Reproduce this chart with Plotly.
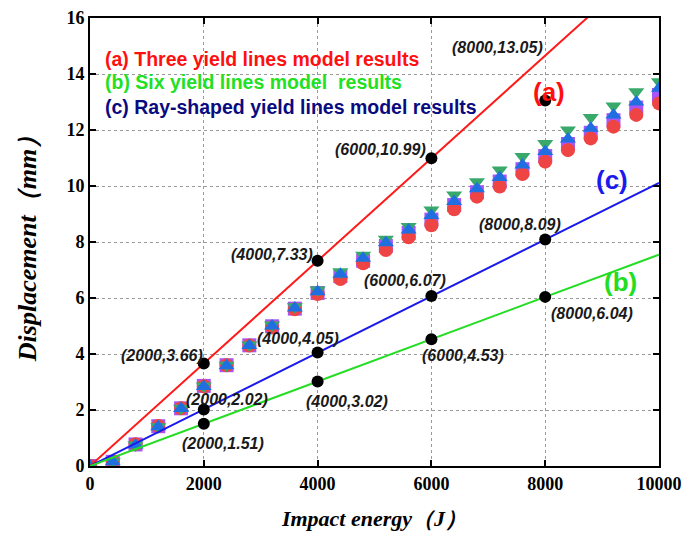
import plotly.graph_objects as go

# Impact energy (J) for the simulated points
energy = [0, 400, 800, 1200, 1600, 2000, 2400, 2800, 3200, 3600, 4000, 4400, 4800,
          5200, 5600, 6000, 6400, 6800, 7200, 7600, 8000, 8400, 8800, 9200, 9600, 10000]

# Simulated displacement (mm), four series
disp_red = [0, 0.15, 0.78, 1.43, 2.06, 2.85, 3.60, 4.30, 4.95, 5.60, 6.14, 6.68, 7.24,
            7.71, 8.17, 8.60, 9.17, 9.62, 9.98, 10.43, 10.87, 11.28, 11.70, 12.12, 12.54, 12.95]
disp_purple = [0, 0.15, 0.77, 1.42, 2.06, 2.86, 3.60, 4.31, 4.99, 5.62, 6.18, 6.78, 7.33,
               7.86, 8.32, 8.80, 9.32, 9.78, 10.16, 10.60, 11.07, 11.50, 11.90, 12.35, 12.80, 13.25]
disp_blue = [0, 0.15, 0.75, 1.40, 2.05, 2.84, 3.58, 4.30, 5.00, 5.64, 6.22, 6.85, 7.42,
             7.97, 8.43, 8.95, 9.45, 9.90, 10.30, 10.75, 11.23, 11.68, 12.06, 12.54, 13.00, 13.49]
disp_green = [0, 0.15, 0.75, 1.40, 2.06, 2.86, 3.60, 4.32, 5.04, 5.69, 6.29, 6.94, 7.53,
              8.10, 8.55, 9.14, 9.68, 10.15, 10.57, 11.05, 11.52, 12.00, 12.45, 12.86, 13.37, 13.72]

# Theoretical model lines (endpoints)
line_x = [0, 10000]
line_a = [0, 18.32]   # three yield lines
line_b = [0, 7.55]    # six yield lines
line_c = [0, 10.11]   # ray-shaped yield lines

# Labelled theoretical points
pts_x = [2000, 4000, 6000, 8000]
pts_a = [3.66, 7.33, 10.99, 13.05]
pts_b = [1.51, 3.02, 4.53, 6.04]
pts_c = [2.02, 4.05, 6.07, 8.09]

# Label positions (data coordinates) for each labelled point
lab_pos_a = [(1265, 3.96), (3199, 7.57), (5097, 11.29), (7170, 14.93)]
lab_pos_b = [(2337, 0.82), (4517, 2.29), (6555, 3.96), (8822, 5.46)]
lab_pos_c = [(2408, 2.36), (3655, 4.57), (5536, 6.64), (7557, 8.61)]

x_ticks = [0, 2000, 4000, 6000, 8000, 10000]
y_ticks = [0, 2, 4, 6, 8, 10, 12, 14, 16]

fig = go.Figure()

for y, col, sym in [(disp_purple, "#a855f7", "square"),
                    (disp_red, "#ef4444", "circle"),
                    (disp_green, "#38a96a", "triangle-down"),
                    (disp_blue, "#1f6fe0", "triangle-up")]:
    fig.add_trace(go.Scatter(x=energy, y=y, mode="markers",
                             marker=dict(symbol=sym, size=14, color=col, line=dict(width=0)),
                             showlegend=False))

for y, col in [(line_a, "#ff1a1a"), (line_c, "#1a1aee"), (line_b, "#22dd22")]:
    fig.add_trace(go.Scatter(x=line_x, y=y, mode="lines",
                             line=dict(color=col, width=2), showlegend=False))

for ys in (pts_a, pts_c, pts_b):
    fig.add_trace(go.Scatter(x=pts_x, y=ys, mode="markers",
                             marker=dict(size=12, color="black"), showlegend=False))

lab_font = dict(family="Liberation Sans, Arial", size=16, color="#1a1a1a")
for xs, ys, pos in [(pts_x, pts_a, lab_pos_a), (pts_x, pts_b, lab_pos_b), (pts_x, pts_c, lab_pos_c)]:
    for xv, yv, (lx, ly) in zip(xs, ys, pos):
        fig.add_annotation(x=lx, y=ly, xref="x", yref="y", showarrow=False,
                           text=f"<b><i>({xv},{yv:.2f})</i></b>", font=lab_font)

# Legend-style captions
cap_font = "Liberation Sans, Arial"
captions = [("(a) Three yield lines model results", "#ff1010", 0.909),
            ("(b) Six yield lines model  results", "#22e022", 0.857),
            ("(c) Ray-shaped yield lines model results", "#0a0a80", 0.801)]
for txt, col, yp in captions:
    fig.add_annotation(x=0.022, y=yp, xref="paper", yref="paper", xanchor="left",
                       yanchor="middle", showarrow=False,
                       text=f"<b>{txt.replace('  ', '&nbsp; ')}</b>",
                       font=dict(family=cap_font, size=19.5, color=col))

# Curve tags
for txt, col, xp, yp in [("(a)", "#ff1010", 8066, 13.35), ("(c)", "#1a1aee", 9174, 10.2),
                         ("(b)", "#22dd22", 9315, 6.58)]:
    fig.add_annotation(x=xp, y=yp, xref="x", yref="y", showarrow=False,
                       text=f"<b>{txt}</b>",
                       font=dict(family=cap_font, size=26, color=col))

axis_common = dict(showline=True, linecolor="black", linewidth=2, mirror="ticks",
                   ticks="inside", ticklen=6, tickwidth=2, tickcolor="black",
                   showgrid=True, gridcolor="#9a9a9a", griddash="3px,3px", gridwidth=1,
                   zeroline=False, automargin=False,
                   tickfont=dict(family="Liberation Serif, Times New Roman", size=18,
                                 color="black", weight="bold"))

fig.update_xaxes(range=[0, 10000], tickvals=x_ticks, ticktext=[str(v) for v in x_ticks],
                 title=dict(text="<b><i>Impact energy（J）</i></b>",
                            font=dict(family="Liberation Serif, Times New Roman", size=22,
                                      color="black"),
                            standoff=18),
                 **axis_common)
fig.update_yaxes(range=[0, 16], tickvals=y_ticks, ticktext=[str(v) for v in y_ticks],
                 title=dict(text="<b><i>Displacement（mm）</i></b>",
                            font=dict(family="Liberation Serif, Times New Roman", size=26,
                                      color="black"),
                            standoff=22),
                 **axis_common)

fig.update_layout(width=684, height=536, margin=dict(l=90, r=25, t=18, b=70),
                  plot_bgcolor="white", paper_bgcolor="white", showlegend=False)

fig.write_html("out.html")
